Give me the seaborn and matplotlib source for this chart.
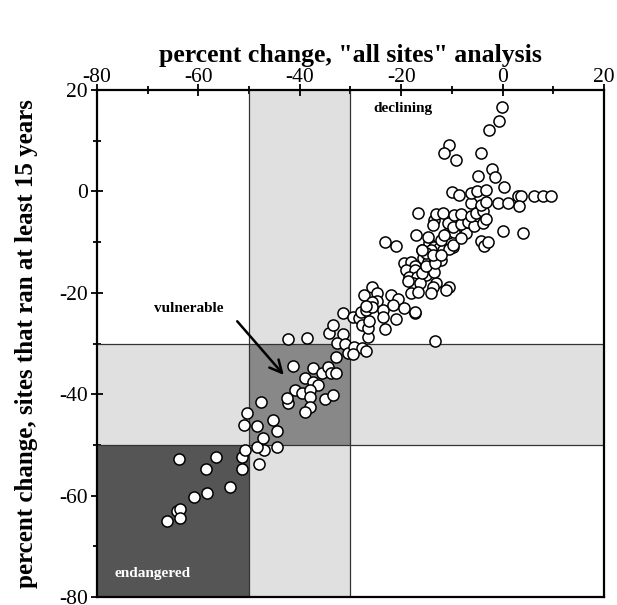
import numpy as np
import pandas as pd
import seaborn as sns
import matplotlib.pyplot as plt
from matplotlib.patches import Rectangle
from matplotlib.ticker import MultipleLocator

# percent change, "all sites" analysis
x_all = [
    -66.2, -64.2, -63.6, -63.6, -60.8, -58.3, -53.7, -63.8, -56.5, -58.5,
    -51.3, -51.3, -50.9, -48.0, -47.0, -48.4, -44.4, -47.2, -44.4, -45.2,
    -48.4, -51.1, -50.4, -47.6, -42.3,
    -42.3, -38.5, -34.3, -33.4, -31.4, -32.6, -31.0, -32.8, -30.4, -41.3,
    -37.3, -35.7, -34.5, -33.8, -32.8, -38.9, -37.3, -36.5, -40.9, -39.5,
    -37.9, -37.9, -42.5, -35.1, -33.4, -37.9, -38.9,
    -31.4, -29.6, -29.4, -27.8, -27.0, -29.6, -28.4, -27.8, -26.6, -26.6,
    -26.4, -28.0, -27.0, -27.4, -25.8, -24.7, -24.7, -25.8, -25.7, -27.0,
    -23.5, -22.1, -20.7, -21.7, -23.5, -21.1, -19.5, -17.2, -23.1,
    -23.1, -21.1, -15.8, -13.6, -12.2, -9.8,
    -19.5, -18.1, -17.2, -19.1, -17.2, -18.5, -16.8, -15.2, -17.7, -16.2,
    -13.2, -13.8, -10.6, -11.2, -14.2, -18.1, -16.6, -18.7, -17.2, -13.4,
    -15.6, -14.8, -13.6, -15.2, -15.8, -13.6, -12.2, -15.2, -13.4,
    -14.6, -13.6, -12.6, -11.8, -10.6, -9.8, -14.2, -15.2, -13.8, -12.2, -15.8,
    -10.8, -9.6, -7.3, -8.3, -12.2, -11.6, -14.8, -4.3, -3.7, -2.9, 0.0, 4.0,
    -17.0,
    -13.6, -13.8, -10.8, -9.8, -8.3, -6.9, -5.7, -3.9,
    -13.2, -11.8, -9.6, -8.3, -6.3, -5.3, -3.9, -3.3, -16.6,
    -6.3, -4.3, -3.3,
    -9.9, -8.6, -6.3, -5.1, -3.2, 3.0, 3.6, 6.2, 7.9, 9.5, 3.3, -0.9, 1.0,
    -0.2, -0.8, -2.7, -10.6, -11.6, -9.2, -4.3, -2.1, -1.5, -4.9, 0.2,
]

# percent change, sites that ran at least 15 years
y_15 = [
    -65.0, -63.0, -62.6, -64.4, -60.3, -59.5, -58.3, -52.8, -52.4, -54.8,
    -52.4, -54.8, -51.0, -53.8, -51.0, -50.4, -50.4, -48.6, -47.3, -45.1,
    -46.3, -46.1, -43.7, -41.5, -41.7,
    -29.1, -28.9, -27.9, -26.4, -28.1, -29.9, -30.1, -32.7, -31.9, -34.4,
    -34.8, -35.8, -34.6, -35.8, -35.8, -36.8, -37.6, -38.2, -39.2, -39.8,
    -39.2, -40.6, -40.7, -40.9, -40.2, -42.5, -43.5,
    -24.0, -24.8, -30.7, -30.9, -31.5, -32.1, -25.0, -26.4, -28.7, -26.9,
    -25.6, -23.8, -23.4, -20.4, -18.9, -20.0, -21.6, -21.8, -22.8, -22.6,
    -23.4, -20.4, -21.2, -22.4, -24.8, -25.2, -23.0, -24.0, -27.1,
    -10.0, -10.8, -11.6, -11.0, -11.6, -11.0,
    -14.1, -13.9, -14.7, -15.5, -15.5, -16.9, -16.9, -16.5, -18.1, -18.1,
    -18.1, -18.9, -18.9, -19.4, -20.0, -20.0, -19.8, -17.7, -23.8, -29.5,
    -13.1, -13.9, -13.9, -15.1, -16.1, -15.9, -13.5, -14.7, -14.1,
    -10.2, -11.0, -11.2, -11.6, -11.4, -10.6, -11.6, -12.1, -12.5, -12.5, -11.6,
    -8.2, -8.0, -8.2, -9.2, -9.6, -8.6, -9.0, -9.8, -10.8, -10.0, -7.8, -8.2,
    -8.6,
    -5.6, -6.6, -6.2, -7.0, -6.4, -6.0, -6.8, -6.2,
    -4.5, -4.3, -4.7, -4.5, -4.9, -4.3, -3.9, -5.4, -4.3,
    -2.3, -2.7, -2.1,
    -0.2, -0.8, -0.3, 0.1, 0.3, -0.9, -0.9, -0.9, -0.9, -0.9, -2.9, -2.3, -2.3,
    16.6, 13.9, 12.1, 9.2, 7.6, 6.2, 7.6, 4.4, 2.8, 3.0, 0.9,
]

axis_ticks = [-80, -60, -40, -20, 0, 20]
vulnerable_band = [-50, -30]
endangered_band = [-80, -50]

df = pd.DataFrame({"all_sites": x_all, "sites_15yr": y_15})

sns.set_theme(style="white")
plt.rcParams["font.family"] = ["Liberation Serif", "DejaVu Serif"]
plt.rcParams["axes.unicode_minus"] = False

fig = plt.figure(figsize=(6.17, 6.05), dpi=100)
ax = fig.add_axes([0.1572, 0.0132, 0.8217, 0.838])

light = "#e0e0e0"
mid = "#888888"
dark = "#555555"
edge = "#333333"

lo, hi = vulnerable_band
ax.axvspan(lo, hi, color=light, zorder=0, lw=0)
ax.axhspan(lo, hi, color=light, zorder=0, lw=0)
ax.add_patch(Rectangle((lo, lo), hi - lo, hi - lo, facecolor=mid, lw=0, zorder=1))
e0, e1 = endangered_band
ax.add_patch(Rectangle((e0, e0), e1 - e0, e1 - e0, facecolor=dark, lw=0, zorder=1))
for v in vulnerable_band:
    ax.axvline(v, color=edge, lw=0.9, zorder=1.5)
    ax.axhline(v, color=edge, lw=0.9, zorder=1.5)

sns.scatterplot(data=df, x="all_sites", y="sites_15yr", ax=ax, s=64,
                color="white", edgecolor="black", linewidth=1.1, zorder=3,
                legend=False)

ax.set_xlim(-80, 20)
ax.set_ylim(-80, 20)
ax.set_xticks(axis_ticks)
ax.set_yticks(axis_ticks)
ax.xaxis.set_minor_locator(MultipleLocator(10))
ax.yaxis.set_minor_locator(MultipleLocator(10))
ax.xaxis.tick_top()
ax.xaxis.set_label_position("top")
ax.tick_params(which="both", direction="inout", top=True, bottom=False,
               left=True, right=False, color="black", width=1.3,
               labelsize=15.5, labelcolor="black")
ax.tick_params(which="major", length=9)
ax.tick_params(which="minor", length=6)
ax.tick_params(axis="x", which="major", pad=-2)
ax.tick_params(axis="y", which="major", pad=2)
for sp in ax.spines.values():
    sp.set_visible(True)
    sp.set_color("black")
    sp.set_linewidth(1.6)

ax.set_xlabel('percent change, "all sites" analysis', fontsize=18.5,
              fontweight="bold", labelpad=4, color="black")
ax.set_ylabel("percent change, sites that ran at least 15 years", fontsize=18,
              fontweight="bold", labelpad=15, color="black")

ax.text(-19.7, 16.3, "declining", fontsize=11, fontweight="bold",
        ha="center", va="center", color="black", zorder=4)
ax.text(-62.0, -23.0, "vulnerable", fontsize=11, fontweight="bold",
        ha="center", va="center", color="black", zorder=4)
ax.text(-69.1, -75.3, "endangered", fontsize=11, fontweight="bold",
        ha="center", va="center", color="white", zorder=4)
ax.annotate("", xy=(-42.8, -36.6), xytext=(-52.7, -25.2),
            arrowprops=dict(arrowstyle="->", lw=1.8, color="black",
                            mutation_scale=22), zorder=4)

fig.savefig("out.png", dpi=100)
